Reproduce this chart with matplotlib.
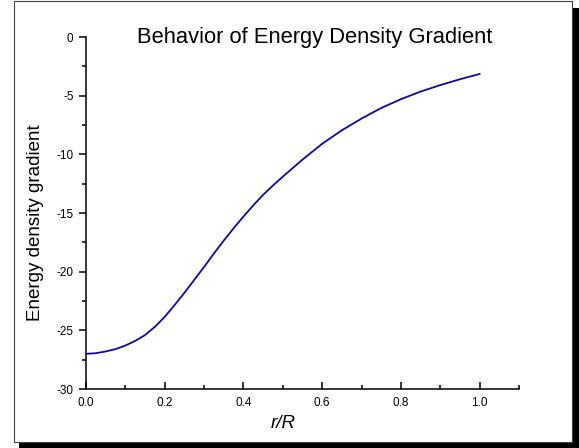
import matplotlib
matplotlib.use("Agg")
import matplotlib.pyplot as plt
from matplotlib.patches import Rectangle
from matplotlib.ticker import MultipleLocator

plt.rcParams['font.family'] = ['Liberation Sans', 'DejaVu Sans']

# values
r_over_R = [0.0, 0.025, 0.05, 0.075, 0.1, 0.125, 0.15, 0.175, 0.2, 0.225, 0.25,
            0.275, 0.3, 0.325, 0.35, 0.375, 0.4, 0.425, 0.45, 0.475, 0.5,
            0.55, 0.6, 0.65, 0.7, 0.75, 0.8, 0.85, 0.9, 0.95, 1.0]
gradient = [-27.0, -26.95, -26.8, -26.6, -26.3, -25.9, -25.4, -24.7, -23.85, -22.85, -21.8,
            -20.7, -19.6, -18.45, -17.35, -16.3, -15.3, -14.35, -13.45, -12.65, -11.9,
            -10.45, -9.1, -7.95, -6.95, -6.05, -5.3, -4.65, -4.1, -3.6, -3.15]

W, H = 579, 448
fig = plt.figure(figsize=(W / 100, H / 100), dpi=100)

# page frame with drop shadow
fig.patches.append(Rectangle((19 / W, 0), (W - 19) / W, (H - 8) / H,
                             transform=fig.transFigure, facecolor='black',
                             edgecolor='none', zorder=0))
fig.patches.append(Rectangle((14 / W, 1 - 442 / H), (572 - 14) / W, (442 - 1) / H,
                             transform=fig.transFigure, facecolor='white',
                             edgecolor='#444444', linewidth=0.8, zorder=1))

ax = fig.add_axes([86 / W, 1 - 389 / H, (519 - 86) / W, (389 - 37) / H])
ax.set_zorder(3)
ax.patch.set_alpha(0)
ax.plot(r_over_R, gradient, color='#0a0aa8', linewidth=1.3)

ax.set_xlim(0, 1.1)
ax.set_ylim(-30, 0)
ax.xaxis.set_major_locator(MultipleLocator(0.2))
ax.xaxis.set_minor_locator(MultipleLocator(0.1))
ax.yaxis.set_major_locator(MultipleLocator(5))
ax.yaxis.set_minor_locator(MultipleLocator(2.5))
ax.xaxis.set_major_formatter(plt.FuncFormatter(lambda v, p: f"{v:.1f}"))
ax.yaxis.set_major_formatter(plt.FuncFormatter(lambda v, p: f"{v:g}"))

for s in ['top', 'right']:
    ax.spines[s].set_visible(False)
for s in ['left', 'bottom']:
    ax.spines[s].set_linewidth(1.1)

ax.tick_params(axis='x', which='major', direction='in', length=5, width=1.1,
               labelsize=8.5, pad=6)
ax.tick_params(axis='x', which='minor', direction='in', length=3, width=1.1)
ax.tick_params(axis='y', which='major', direction='out', length=5, width=1.1,
               labelsize=8.5, pad=4)
ax.tick_params(axis='y', which='minor', direction='out', length=3, width=1.1)

fig.text(315 / W, 1 - 37 / H, "Behavior of Energy Density Gradient",
         fontsize=15.8, ha='center', va='center', zorder=3)
fig.text(36 / W, 1 - 223 / H, "Energy density gradient", fontsize=13.5,
         rotation=90, ha='center', va='center', zorder=3)
fig.text(283 / W, 1 - 423 / H, "r/R", fontsize=13.5, style='italic',
         ha='center', va='center', zorder=3)

fig.savefig("out.png", dpi=100)
